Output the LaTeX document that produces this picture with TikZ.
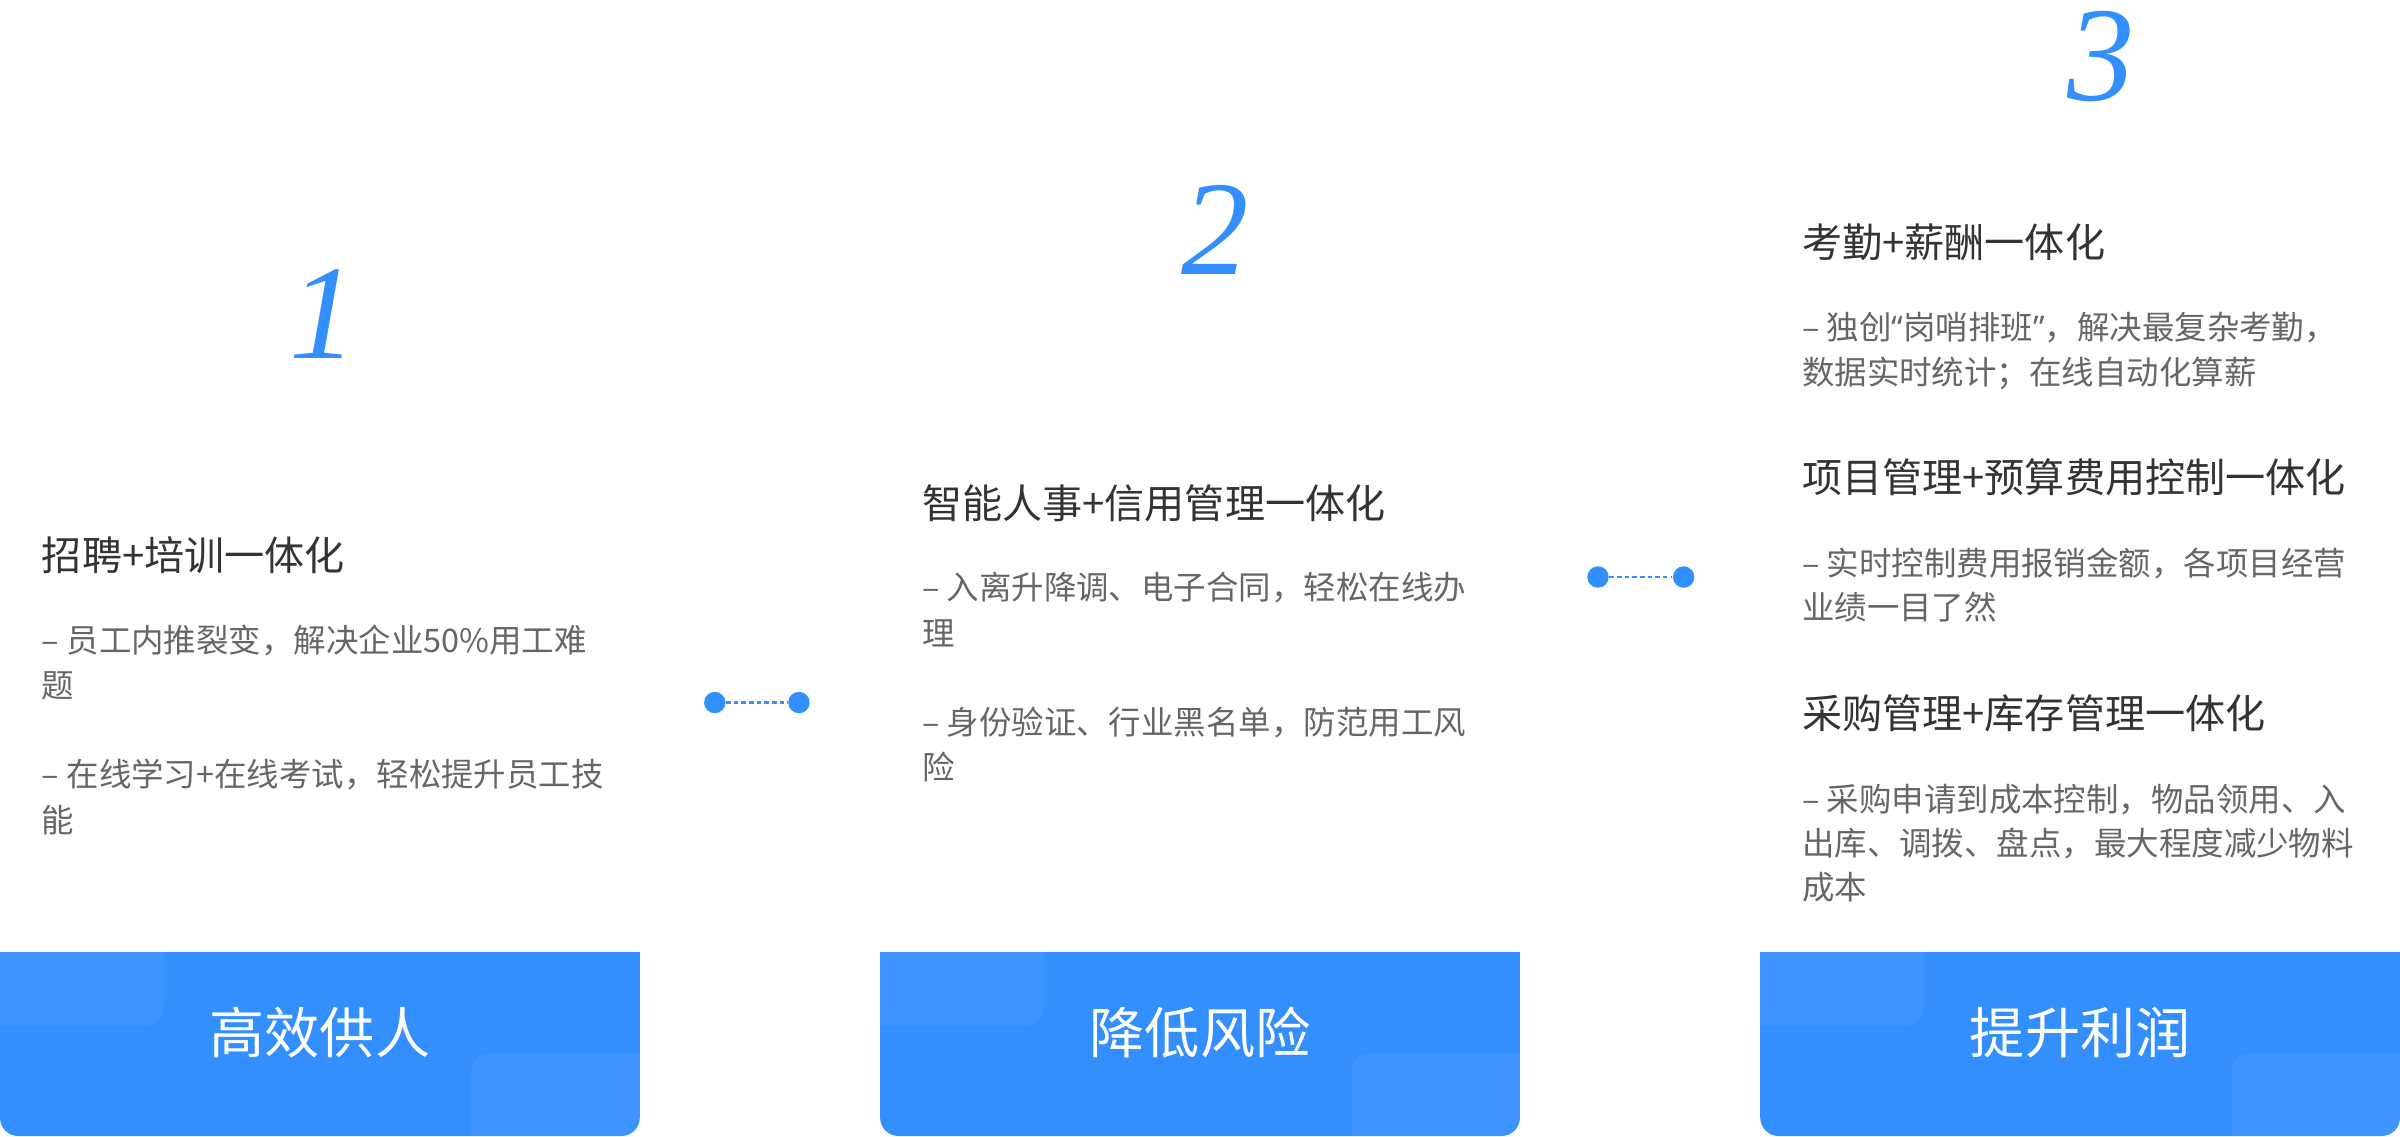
\documentclass[tikz,border=0pt]{standalone}
\usepackage{fontspec}
\newfontfamily\cjk{Noto Sans CJK SC}
\newfontfamily\latq{Noto Sans}
\newfontfamily\numfont{Liberation Serif}
\definecolor{mainblue}{HTML}{348FFE}
\definecolor{headc}{HTML}{333333}
\definecolor{bodyc}{HTML}{666666}
\begin{document}
\begin{tikzpicture}[x=0.5pt,y=-0.5pt,
  heading/.style={anchor=west,inner sep=0pt,text=headc,font={\cjk\fontsize{13.1}{15}\selectfont},text height=0.8em,text depth=0.2em},
  bodytxt/.style={anchor=west,inner sep=0pt,text=bodyc,font={\cjk\fontsize{10.6}{12}\selectfont},text height=0.8em,text depth=0.2em},
  bignum/.style={inner sep=0pt,text=mainblue,font={\numfont\itshape\fontsize{44}{44}\selectfont}},
  boxtxt/.style={inner sep=0pt,text=white,font={\cjk\fontsize{18}{20}\selectfont},text height=0.8em,text depth=0.2em},
  dot/.style={circle,fill=mainblue,inner sep=0pt,minimum size=7pt},
  dotline/.style={mainblue,line width=0.7pt,dash pattern=on 1.5pt off 1pt}
]
\useasboundingbox (0,0) rectangle (1568,742.2);

% bottom boxes
\foreach \xo in {0,575,1150}{
  \begin{scope}[xshift=\xo*0.5pt]
    \fill[mainblue,rounded corners=6pt] (0,622) rectangle (418,742.2);
    \fill[mainblue] (0,622) rectangle (418,690);
    \begin{scope}
      \clip (0,622) rectangle (418,742.2);
      \fill[white,opacity=0.05,rounded corners=6pt] (-30,600) rectangle (107,670);
      \fill[white,opacity=0.05,rounded corners=6pt] (308,688) rectangle (450,780);
    \end{scope}
  \end{scope}
}
\node[boxtxt] (box1) at (209,682) {高效供人};
\node[boxtxt] (box2) at (784,682) {降低风险};
\node[boxtxt] (box3) at (1359,682) {提升利润};

% numbers
\node[bignum] (n1) at (211,205) {1};
\node[bignum] (n2) at (794,150) {2};
\node[bignum] (n3) at (1373,37) {3};

% column 1
\node[heading] (h1) at (27,367) {招聘+培训一体化};
\node[bodytxt] (t1a) at (27,420) {– 员工内推裂变，解决企业50\%用工难};
\node[bodytxt] (t1b) at (27,450) {题};
\node[bodytxt] (t1c) at (27,508) {– 在线学习+在线考试，轻松提升员工技};
\node[bodytxt] (t1d) at (27,538) {能};

% column 2
\node[heading] (h2) at (602,333) {智能人事+信用管理一体化};
\node[bodytxt] (t2a) at (602,386) {– 入离升降调、电子合同，轻松在线办};
\node[bodytxt] (t2b) at (602,416) {理};
\node[bodytxt] (t2c) at (602,474) {– 身份验证、行业黑名单，防范用工风};
\node[bodytxt] (t2d) at (602,503) {险};

% column 3
\node[heading] (h3) at (1177,162) {考勤+薪酬一体化};
\node[bodytxt] (t3a) at (1177,216) {– 独创{\latq “}岗哨排班{\latq ”}，解决最复杂考勤，};
\node[bodytxt] (t3b) at (1177,245) {数据实时统计；在线自动化算薪};
\node[heading] (h4) at (1177,316) {项目管理+预算费用控制一体化};
\node[bodytxt] (t4a) at (1177,370) {– 实时控制费用报销金额，各项目经营};
\node[bodytxt] (t4b) at (1177,399) {业绩一目了然};
\node[heading] (h5) at (1177,470) {采购管理+库存管理一体化};
\node[bodytxt] (t5a) at (1177,524) {– 采购申请到成本控制，物品领用、入};
\node[bodytxt] (t5b) at (1177,553) {出库、调拨、盘点，最大程度减少物料};
\node[bodytxt] (t5c) at (1177,582) {成本};

% connectors
\node[dot] (d1) at (467,459) {};
\node[dot] (d2) at (522,459) {};
\node[dot] (d3) at (1044,377) {};
\node[dot] (d4) at (1100,377) {};
\draw[dotline] (d1) -- (d2);
\draw[dotline] (d3) -- (d4);
\end{tikzpicture}
\end{document}
